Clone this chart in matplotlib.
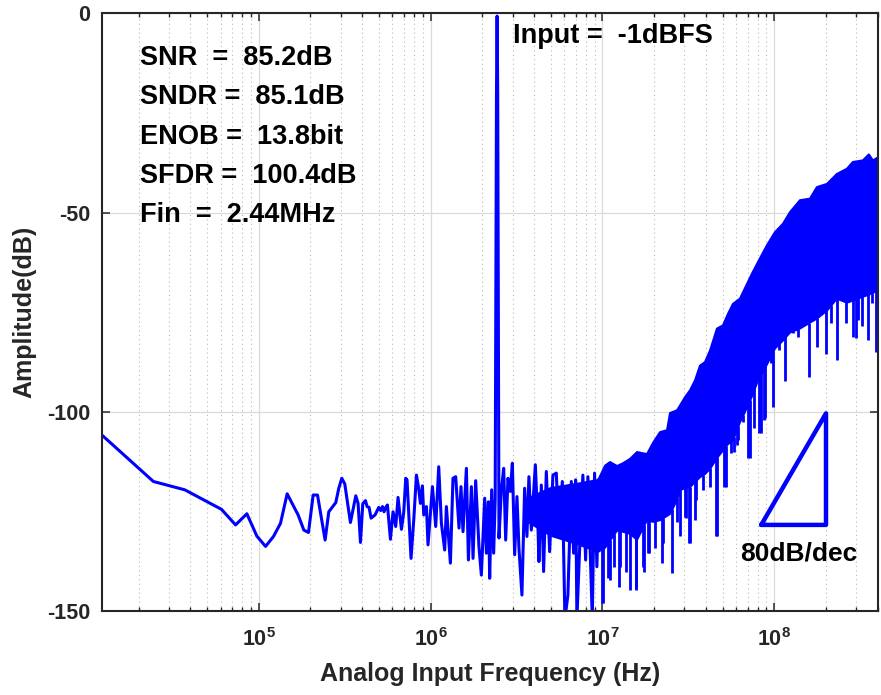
import matplotlib
matplotlib.use("Agg")
import matplotlib.pyplot as plt
import numpy as np

plt.rcParams["font.family"] = ["Liberation Sans", "DejaVu Sans"]
plt.rcParams["font.weight"] = "bold"
plt.rcParams["axes.labelweight"] = "bold"
plt.rcParams["axes.unicode_minus"] = False
plt.rcParams["mathtext.fontset"] = "custom"
plt.rcParams["mathtext.rm"] = "Liberation Sans:bold"
plt.rcParams["mathtext.bf"] = "Liberation Sans:bold"

# sparse part of the spectrum, up to ~9.5 MHz (Hz, dB), incl. the input tone
f_low = [12207, 24400, 37200, 60800, 73400, 85400, 97600, 109700, 122000, 134000,
         146500, 169700, 183200, 195000, 207500, 220000, 243600, 255900, 281000, 292600,
         304600, 317000, 342000, 367400, 378900, 391200, 403500, 418300, 427400, 439000,
         450900, 475700, 499800, 513300, 525200, 536500, 548900, 561500, 584500, 605200,
         627500, 647100, 677200, 698300, 717400, 730000, 770200, 798600, 827900, 850400,
         873500, 897300, 913000, 946600, 967000, 1.026e6, 1.072e6, 1.116e6, 1.157e6, 1.209e6,
         1.237e6, 1.305e6, 1.351e6, 1.401e6, 1.465e6, 1.504e6, 1.545e6, 1.617e6, 1.661e6, 1.729e6,
         1.767e6, 1.831e6, 1.914e6, 1.976e6, 2.066e6, 2.113e6, 2.171e6, 2.209e6, 2.269e6, 2.330e6,
         2.378e6, 2.42e6, 2.44e6, 2.46e6, 2.502e6, 2.584e6, 2.665e6, 2.737e6, 2.822e6, 2.914e6,
         2.993e6, 3.087e6, 3.184e6, 3.270e6, 3.403e6, 3.528e6, 3.639e6, 3.737e6, 3.860e6, 4.073e6,
         4.217e6, 4.273e6, 4.412e6, 4.550e6, 4.718e6, 4.932e6, 5.155e6, 5.394e6, 5.586e6, 5.845e6,
         6.052e6, 6.300e6, 6.594e6, 6.799e6, 6.985e6, 7.106e6, 7.368e6, 7.700e6, 7.985e6, 8.235e6,
         8.734e6, 9.006e6, 9.290e6, 9.541e6]
p_low = [-105.8, -117.5, -119.6, -124.5, -128.4, -125.6, -131.2, -133.8, -131.3, -128.0,
         -120.6, -125.9, -129.7, -130.3, -120.9, -120.9, -132.2, -125.1, -122.8, -119.2,
         -116.7, -118.1, -127.8, -121.1, -123.0, -132.8, -123.1, -122.3, -123.8, -124.0,
         -126.7, -125.9, -124.0, -124.8, -123.8, -125.1, -124.0, -123.4, -132.0, -125.1,
         -128.8, -121.5, -129.5, -125.3, -116.7, -117.1, -136.8, -127.2, -115.9, -118.8,
         -123.0, -118.6, -125.9, -123.8, -133.4, -118.8, -128.8, -113.8, -128.0, -134.7,
         -123.8, -138.0, -116.7, -116.3, -129.2, -118.8, -130.1, -114.2, -137.2, -118.8,
         -136.8, -117.3, -133.9, -141.0, -121.7, -135.5, -122.6, -141.8, -119.6, -135.5,
         -122.0, -20.0, -0.7, -20.0, -131.7, -119.6, -114.2, -132.2, -116.7, -120.0,
         -112.9, -135.9, -121.3, -134.3, -146.0, -119.2, -131.3, -116.3, -129.7, -113.3,
         -128.8, -137.6, -118.4, -140.1, -115.0, -135.1, -115.9, -115.4, -131.3, -117.5,
         -152.0, -146.0, -117.5, -135.5, -117.1, -152.0, -134.7, -115.9, -137.2, -116.3,
         -152.0, -115.4, -138.9, -117.1]

# dense part: upper and lower edge of the solid noise band
f_band = [3.5e6, 5.0e6, 7.0e6, 9.4e6, 10.30e6, 11.01e6, 12.09e6, 13.10e6, 14.39e6, 15.80e6,
          18.06e6, 19.57e6, 21.50e6, 23.62e6, 24.59e6, 27.01e6, 28.11e6, 30.06e6, 32.13e6, 34.36e6,
          36.74e6, 39.29e6, 42.01e6, 46.12e6, 49.97e6, 53.44e6, 57.13e6, 62.75e6, 65.33e6, 73.72e6,
          79.87e6, 90.07e6, 100.3e6, 111.6e6, 122.6e6, 140.1e6, 160.2e6, 175.9e6, 201.2e6, 229.9e6,
          262.8e6, 284.8e6, 325.6e6, 352.8e6, 372.3e6, 4.0e8]
band_hi = [-122.0, -119.0, -118.0, -117.0, -113.4, -112.5, -113.5, -112.8, -111.7, -110.0,
           -110.5, -107.7, -105.0, -104.5, -100.2, -99.5, -98.3, -96.2, -94.5, -92.0,
           -88.3, -87.4, -84.5, -79.0, -78.2, -75.3, -72.8, -71.5, -69.9, -65.2,
           -62.3, -58.1, -54.8, -52.7, -49.8, -46.8, -46.4, -43.5, -42.7, -40.2,
           -38.9, -37.2, -36.8, -35.3, -36.8, -36.0]
band_lo = [-127.0, -131.0, -133.0, -135.0, -134.0, -132.2, -129.7, -130.0, -130.5, -132.0,
           -127.1, -127.5, -127.1, -126.0, -125.5, -122.0, -119.6, -119.0, -118.8, -117.5,
           -116.3, -115.5, -114.2, -111.5, -109.6, -108.0, -107.1, -102.5, -101.0, -96.0,
           -92.0, -88.0, -84.0, -82.0, -80.0, -79.0, -77.5, -76.5, -74.5, -71.5,
           -72.5, -72.0, -71.0, -70.5, -70.0, -69.5]

# deep notches below the band (Hz, dB)
f_spike = [9.93e6, 10.07e6, 10.76e6, 11.01e6, 11.62e6, 12.47e6, 12.59e6, 13.77e6, 14.39e6, 15.60e6,
           15.74e6, 17.20e6, 17.36e6, 18.39e6, 18.56e6, 20.11e6, 22.30e6, 22.47e6, 25.35e6, 27.12e6,
           28.11e6, 30.06e6, 30.45e6, 31.84e6, 32.13e6, 34.36e6, 35.15e6, 38.40e6, 42.01e6, 45.94e6,
           46.31e6, 51.33e6, 52.04e6, 56.16e6, 57.92e6, 60.52e6, 61.35e6, 65.58e6, 70.15e6, 71.77e6,
           76.70e6, 82.00e6, 83.91e6, 87.70e6, 88.87e6, 95.9e6, 98.0e6, 107.2e6, 116.2e6, 128.1e6,
           136.9e6, 158.7e6, 176.6e6, 200.4e6, 214.2e6, 230.8e6, 261.8e6, 286.0e6, 299.3e6, 305.8e6,
           324.3e6, 349.6e6, 370.9e6, 389.1e6]
p_spike = [-148.1, -148.0, -141.8, -142.2, -138.9, -143.9, -138.9, -140.1, -144.7, -144.3,
           -144.7, -138.9, -140.1, -135.5, -135.5, -134.3, -138.0, -133.0, -140.4, -127.6,
           -131.3, -126.3, -126.7, -133.0, -133.0, -127.1, -122.1, -119.6, -118.8, -131.3,
           -131.3, -118.8, -118.8, -110.4, -110.0, -108.3, -107.1, -102.5, -111.7, -111.7,
           -104.1, -105.4, -105.4, -102.1, -101.6, -87.8, -98.7, -84.5, -92.4, -80.3,
           -81.2, -91.4, -83.7, -85.5, -77.8, -87.0, -77.8, -81.2, -81.4, -77.0,
           -78.6, -82.0, -72.8, -84.9]

# 80 dB/dec slope marker corners
slope_f = [8.4e7, 2.0e8]
slope_db = [-128.4, -100.4]

stats = ["SNR  =  85.2dB", "SNDR =  85.1dB", "ENOB =  13.8bit",
         "SFDR =  100.4dB", "Fin  =  2.44MHz"]
xticks = [1e5, 1e6, 1e7, 1e8]
xtick_labels = [r"$\mathbf{10^{5}}$", r"$\mathbf{10^{6}}$", r"$\mathbf{10^{7}}$", r"$\mathbf{10^{8}}$"]
yticks = [-150, -100, -50, 0]

blue = "#0000ff"
dark = "#262626"

fig = plt.figure(figsize=(8.81, 6.95), dpi=100)
ax = fig.add_axes([0.1154, 0.1209, 0.8809, 0.8600])

ax.fill_between(f_band, band_lo, band_hi, color=blue, lw=1.5, edgecolor=blue)
ax.plot(f_low, p_low, color=blue, lw=2.2, solid_joinstyle="round")
base = np.interp(np.log10(f_spike), np.log10(f_band), band_lo)
ax.vlines(f_spike, p_spike, base, color=blue, lw=2.0)

# slope triangle
ax.plot([slope_f[0], slope_f[1], slope_f[1], slope_f[0]],
        [slope_db[0], slope_db[0], slope_db[1], slope_db[0]],
        color=blue, lw=3.2, solid_joinstyle="round", solid_capstyle="round")
ax.text(1.38e8, -135.5, "80dB/dec", ha="center", va="center", fontsize=19, color="black")

ax.set_xscale("log")
ax.set_xlim(12207, 4.0e8)
ax.set_ylim(-150, 0)
ax.set_xticks(xticks)
ax.set_xticklabels(xtick_labels)
ax.set_yticks(yticks)
ax.yaxis.set_minor_locator(plt.NullLocator())

ax.grid(which="major", color="#dadada", lw=0.9)
ax.grid(which="minor", axis="x", color="#b8b8b8", ls=(0, (1, 3)), lw=0.8)
ax.set_axisbelow(True)

ax.tick_params(which="both", direction="in", top=True, right=True, color=dark)
ax.tick_params(which="major", length=5.8, width=1.1, labelsize=15.5, labelcolor=dark)
ax.tick_params(which="minor", length=3.0, width=1.0)
ax.tick_params(axis="y", pad=8)
ax.tick_params(axis="x", pad=12)
for s in ax.spines.values():
    s.set_linewidth(1.5)
    s.set_color(dark)

ax.set_xlabel("Analog Input Frequency (Hz)", fontsize=18, color=dark)
ax.set_ylabel("Amplitude(dB)", fontsize=18, color=dark)
ax.xaxis.set_label_coords(0.5004, -0.086)
ax.yaxis.set_label_coords(-0.084, 0.5)

for i, s in enumerate(stats):
    ax.text(0.0494, 0.9135 - i * 0.0657, s, transform=ax.transAxes,
            fontsize=19.5, color="black", va="baseline", ha="left")
ax.text(0.5305, 0.9498, "Input =  -1dBFS", transform=ax.transAxes,
        fontsize=19.5, color="black", va="baseline", ha="left")

fig.savefig("out.png", dpi=100)
